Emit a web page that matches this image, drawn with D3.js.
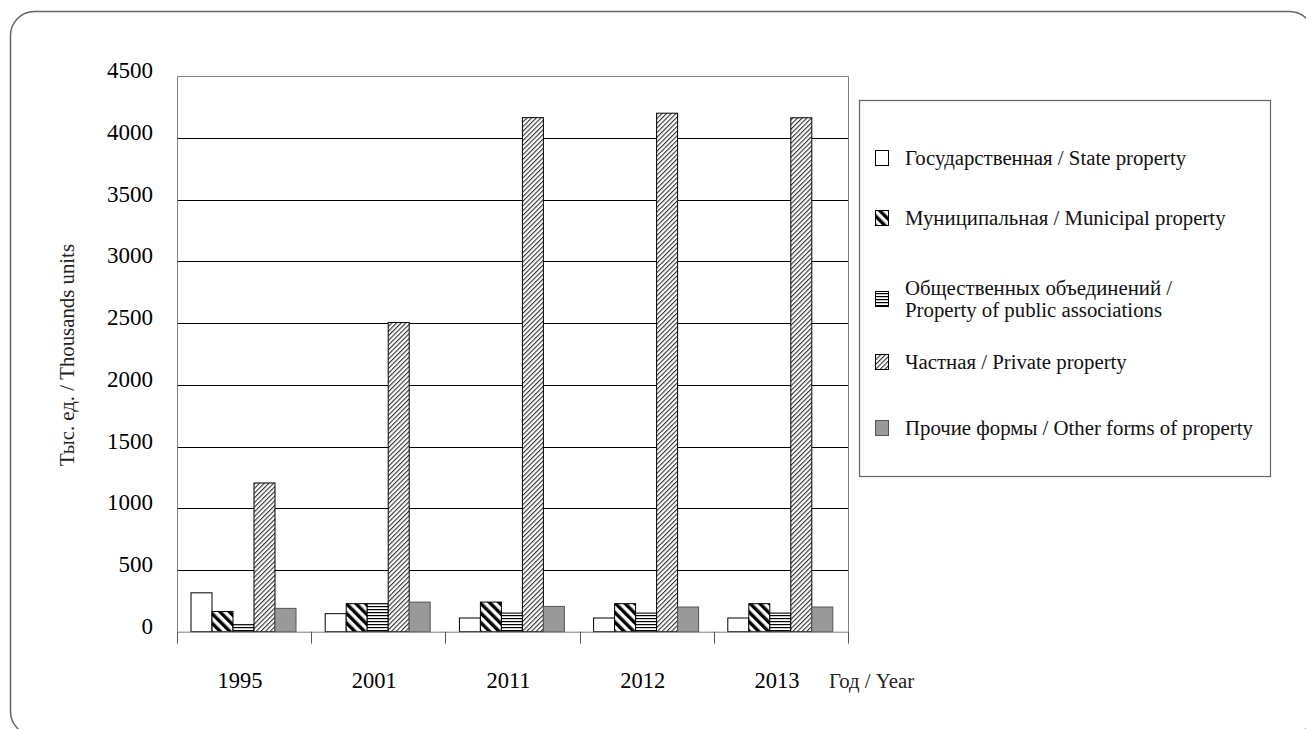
<!DOCTYPE html>
<html>
	<head>
		<meta charset="utf-8">
		<title>Property forms</title>

		<style>
		body {
			margin: 0;
			background: #fff;
		}

		svg {
			display: block;
		}

		text {
			font-family: "Liberation Serif", "Times New Roman", serif;
		}

		.bar {
			stroke-width: 1px;
		}

		.grid line {
			stroke: #000;
			stroke-width: 1px;
		}

		.frame {
			fill: none;
			stroke: #808080;
			stroke-width: 1px;
		}
		</style>

		<script src="https://d3js.org/d3.v7.min.js"></script>
	</head>
	<body>
		<svg id="chart" width="1306" height="729"></svg>

		<script>
		var years	= ['1995', '2001', '2011', '2012', '2013'],
			stateProp	= [315, 146, 111, 111, 111],
			municipalProp	= [164, 227, 240, 227, 227],
			publicProp	= [57, 227, 151, 151, 151],
			privateProp	= [1205, 2505, 4165, 4201, 4164],
			otherProp	= [189, 240, 205, 200, 200],
			yTicks	= [0, 500, 1000, 1500, 2000, 2500, 3000, 3500, 4000, 4500];

		var seriesNames = [
			['Государственная / State property'],
			['Муниципальная / Municipal property'],
			['Общественных объединений /', 'Property of public associations'],
			['Частная / Private property'],
			['Прочие формы / Other forms of property']
		];

		var seriesFill = ['#fff', 'url(#pMun)', 'url(#pPub)', 'url(#pPriv)', '#999'];
		var seriesStroke = ['#000', '#000', '#000', '#000', '#555'];

		var series = [stateProp, municipalProp, publicProp, privateProp, otherProp];

		var serif = '"Liberation Serif", "Times New Roman", serif';

		var svg = d3.select('#chart');

		// patterns
		var defs = svg.append('defs');

		var pMun = defs.append('pattern')
			.attr('id', 'pMun')
			.attr('patternUnits', 'userSpaceOnUse')
			.attr('width', 6.8).attr('height', 6.8)
			.attr('patternTransform', 'rotate(-45)');
		pMun.append('rect').attr('width', 6.8).attr('height', 6.8).attr('fill', '#fff');
		pMun.append('rect').attr('width', 3.4).attr('height', 6.8).attr('fill', '#000');

		var pPub = defs.append('pattern')
			.attr('id', 'pPub')
			.attr('patternUnits', 'userSpaceOnUse')
			.attr('width', 6).attr('height', 3);
		pPub.append('rect').attr('width', 6).attr('height', 3).attr('fill', '#fff');
		pPub.append('rect').attr('width', 6).attr('height', 1.2).attr('fill', '#000');

		var pPriv = defs.append('pattern')
			.attr('id', 'pPriv')
			.attr('patternUnits', 'userSpaceOnUse')
			.attr('width', 3.3).attr('height', 3.3)
			.attr('patternTransform', 'rotate(45)');
		pPriv.append('rect').attr('width', 3.3).attr('height', 3.3).attr('fill', '#fff');
		pPriv.append('rect').attr('width', 1.1).attr('height', 3.3).attr('fill', '#333');

		// outer rounded frame
		svg.append('rect')
			.attr('x', 10.5).attr('y', 11.5)
			.attr('width', 1303).attr('height', 724)
			.attr('rx', 24).attr('ry', 24)
			.attr('fill', 'none')
			.attr('stroke', '#666')
			.attr('stroke-width', 1.5);

		var plot = { left: 177, right: 848, top: 76.3, bottom: 631.7 };

		var xScale = d3.scaleBand().domain(years).range([plot.left, plot.right]);
		var inner = d3.scaleBand().domain(d3.range(series.length)).range([14, 119]);
		var yScale = d3.scaleLinear().domain([0, 4500]).range([plot.bottom, plot.top]);

		// gridlines
		svg.append('g')
			.attr('class', 'grid')
			.selectAll('line')
			.data(yTicks.filter(function (d) { return d > 0 && d < 4500; }))
			.enter()
			.append('line')
			.attr('x1', plot.left).attr('x2', plot.right)
			.attr('y1', function (d) { return Math.round(yScale(d)) + 0.5; })
			.attr('y2', function (d) { return Math.round(yScale(d)) + 0.5; });

		// plot frame (left, top, right)
		svg.append('path')
			.attr('class', 'frame')
			.attr('d', 'M' + (plot.left + 0.5) + ',' + plot.bottom + 'V' + (Math.round(plot.top) + 0.5) +
				'H' + (plot.right + 0.5) + 'V' + plot.bottom);

		// y tick labels
		svg.append('g')
			.selectAll('text')
			.data(yTicks)
			.enter()
			.append('text')
			.attr('x', 153)
			.attr('y', function (d) { return yScale(d) + 2; })
			.attr('text-anchor', 'end')
			.attr('font-size', 23)
			.style('font-family', serif)
			.text(function (d) { return d; });

		// bars
		var groups = svg.append('g')
			.selectAll('g')
			.data(series)
			.enter()
			.append('g');

		groups.selectAll('rect')
			.data(function (s, si) { return s.map(function (v, i) { return { v: v, i: i, s: si }; }); })
			.enter()
			.append('rect')
			.attr('class', 'bar')
			.attr('x', function (d) { return xScale(years[d.i]) + inner(d.s); })
			.attr('y', function (d) { return yScale(d.v); })
			.attr('width', inner.bandwidth())
			.attr('height', function (d) { return plot.bottom - yScale(d.v); })
			.attr('fill', function (d) { return seriesFill[d.s]; })
			.attr('stroke', function (d) { return seriesStroke[d.s]; });

		// bottom axis
		var xAxis = svg.append('g');

		xAxis.append('line')
			.attr('x1', plot.left).attr('x2', plot.right)
			.attr('y1', plot.bottom + 0.5).attr('y2', plot.bottom + 0.5)
			.attr('stroke', '#808080');

		xAxis.selectAll('.tick')
			.data(years.map(function (d) { return xScale(d); }).concat([plot.right]))
			.enter()
			.append('line')
			.attr('x1', function (d) { return Math.round(d) + 0.5; })
			.attr('x2', function (d) { return Math.round(d) + 0.5; })
			.attr('y1', plot.bottom)
			.attr('y2', plot.bottom + 12)
			.attr('stroke', '#555');

		xAxis.selectAll('text')
			.data(years)
			.enter()
			.append('text')
			.attr('x', function (d) { return xScale(d) + xScale.bandwidth() / 2 - 4; })
			.attr('y', 688)
			.attr('text-anchor', 'middle')
			.attr('font-size', 22.5)
			.style('font-family', serif)
			.text(function (d) { return d; });

		svg.append('text')
			.attr('x', 829)
			.attr('y', 688)
			.attr('font-size', 20.8)
			.attr('fill', '#222')
			.style('font-family', serif)
			.text('Год / Year');

		// y label
		svg.append('text')
			.attr('transform', 'translate(74,355) rotate(-90)')
			.attr('text-anchor', 'middle')
			.attr('font-size', 20.8)
			.attr('fill', '#222')
			.style('font-family', serif)
			.text('Тыс. ед. / Thousands units');

		// legend
		var legend = svg.append('g');

		legend.append('rect')
			.attr('x', 859.5).attr('y', 100.5)
			.attr('width', 411).attr('height', 376)
			.attr('fill', '#fff')
			.attr('stroke', '#666')
			.attr('stroke-width', 1.2);

		var legendY = [158, 218, 299, 362, 428];

		var items = legend.selectAll('.item')
			.data(seriesNames)
			.enter()
			.append('g')
			.attr('transform', function (d, i) { return 'translate(0,' + legendY[i] + ')'; });

		items.append('rect')
			.attr('x', 875.5).attr('y', -7.5)
			.attr('width', 13).attr('height', 15)
			.attr('fill', function (d, i) { return seriesFill[i]; })
			.attr('stroke', function (d, i) { return seriesStroke[i]; });

		items.append('text')
			.attr('x', 905)
			.attr('font-size', 20.8)
			.attr('fill', '#111')
			.style('font-family', serif)
			.selectAll('tspan')
			.data(function (d) { return d; })
			.enter()
			.append('tspan')
			.attr('x', 905)
			.attr('y', function (d, i, nodes) { return (i - (nodes.length - 1) / 2) * 22 + 6.5; })
			.text(function (d) { return d; });
		</script>
	</body>
</html>
